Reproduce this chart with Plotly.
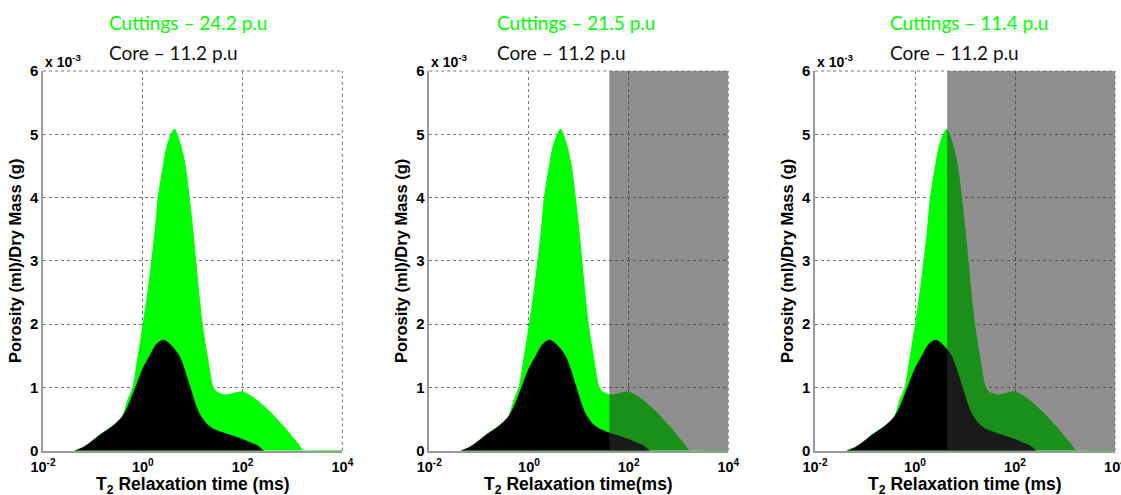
import plotly.graph_objects as go

# ---- data (T2 in ms, porosity in units of 1e-3 ml/g) ----
cut_t2 = [0.0437, 0.0631, 0.1, 0.138, 0.24, 0.38, 0.5, 0.63, 0.79, 1.02, 1.26, 1.51, 1.78,
          2.04, 2.57, 3.16, 4.27, 5.62, 7.08, 8.51, 10.0, 11.5, 13.2, 15.5, 20.0, 25.7,
          31.6, 44.7, 63.1, 95.5, 135, 191, 269, 380, 537, 759, 1000, 1259, 1660, 3000, 10000]
cut_val = [0.0, 0.05, 0.16, 0.25, 0.38, 0.52, 0.8, 1.0, 1.45, 2.0, 2.5, 3.0, 3.5,
           4.0, 4.5, 4.85, 5.08, 4.85, 4.5, 4.0, 3.5, 3.0, 2.5, 2.0, 1.45, 1.0,
           0.92, 0.88, 0.9, 0.93, 0.88, 0.8, 0.7, 0.59, 0.46, 0.33, 0.21, 0.12, 0.0, 0.0, 0.0]

core_t2 = [0.0437, 0.0631, 0.1, 0.138, 0.24, 0.38, 0.5, 0.71, 1.0, 1.38, 1.86, 2.57, 3.55,
           5.37, 8.91, 11.2, 13.5, 17.8, 25.1, 35.5, 50.1, 70.8, 100, 141, 200, 263]
core_val = [0.0, 0.05, 0.16, 0.25, 0.38, 0.53, 0.7, 1.0, 1.3, 1.5, 1.68, 1.75, 1.68,
            1.5, 1.0, 0.75, 0.59, 0.45, 0.35, 0.3, 0.26, 0.22, 0.18, 0.13, 0.08, 0.0]

cuttings_labels = ["Cuttings \u2013 24.2 p.u", "Cuttings \u2013 21.5 p.u", "Cuttings \u2013 11.4 p.u"]
core_labels = ["Core \u2013 11.2 p.u", "Core \u2013 11.2 p.u", "Core \u2013 11.2 p.u"]
cutoffs = [None, 41.0, 4.4]          # start of shaded region (ms)
xtitles = ["T<sub>2</sub> Relaxation time (ms)", "T<sub>2</sub> Relaxation time(ms)",
           "T<sub>2</sub> Relaxation time (ms)"]
x_tickvals = [0.01, 1, 100, 10000]
x_ticktext = ["10<sup>-2</sup>", "10<sup>0</sup>", "10<sup>2</sup>", "10<sup>4</sup>"]
y_tickvals = [0, 1, 2, 3, 4, 5, 6]

W, H = 1121, 495
x_px = [(43, 342.4), (429.3, 728.3), (815, 1115)]
y_px = (71, 450.7)
title_left_px = [107, 495, 888]

fig = go.Figure()
FONT = "Liberation Sans, Arial"
layout = dict(width=W, height=H, margin=dict(l=0, r=0, t=0, b=0, pad=0, autoexpand=False),
              template="none",
              paper_bgcolor="white", plot_bgcolor="white", showlegend=False)
annotations = []
shapes = []
for i in range(3):
    xa = "x" if i == 0 else f"x{i+1}"
    ya = "y" if i == 0 else f"y{i+1}"
    fig.add_trace(go.Scatter(x=cut_t2, y=cut_val, mode="lines", fill="tozeroy",
                             fillcolor="#00ff00",
                             line=dict(color="#00ff00", width=1, shape="spline", smoothing=0.8),
                             xaxis=xa, yaxis=ya, hoverinfo="skip"))
    fig.add_trace(go.Scatter(x=core_t2, y=core_val, mode="lines", fill="tozeroy",
                             fillcolor="#000000",
                             line=dict(color="#000000", width=0.5, shape="spline", smoothing=0.8),
                             xaxis=xa, yaxis=ya, hoverinfo="skip"))
    if cutoffs[i] is not None:
        fig.add_trace(go.Scatter(x=[cutoffs[i], 10000], y=[6, 6], mode="lines", fill="tozeroy",
                                 fillcolor="rgba(48,48,48,0.54)", line=dict(width=0),
                                 xaxis=xa, yaxis=ya, hoverinfo="skip"))
    dom_x = [x_px[i][0] / W, x_px[i][1] / W]
    dom_y = [(H - y_px[1]) / H, (H - y_px[0]) / H]
    xkey = "xaxis" if i == 0 else f"xaxis{i+1}"
    ykey = "yaxis" if i == 0 else f"yaxis{i+1}"
    layout[xkey] = dict(type="log", range=[-2, 4], domain=dom_x, anchor=ya, automargin=False,
                        tickvals=x_tickvals, ticktext=[f"<b>{t}</b>" for t in x_ticktext],
                        tickfont=dict(family=FONT, size=14.5, color="black"),
                        ticks="", ticklabelstandoff=2,
                        ticklabeloverflow="allow", showgrid=True, gridcolor="#777",
                        griddash="dot", gridwidth=1, showline=True, linecolor="#999",
                        linewidth=1.5, zeroline=False)
    layout[ykey] = dict(range=[0, 6], domain=dom_y, anchor=xa, automargin=False,
                        tickvals=y_tickvals, ticktext=[f"<b>{v}</b>" for v in y_tickvals],
                        tickfont=dict(family=FONT, size=15, color="black"),
                        ticks="", showgrid=True, gridcolor="#777",
                        griddash="dot", gridwidth=1, showline=True, linecolor="#999",
                        linewidth=1.5, zeroline=False,
                        title=dict(text="<b>Porosity (ml)/Dry Mass (g)</b>",
                                   font=dict(family=FONT, size=16.5, color="black"),
                                   standoff=4))
    # x-axis title placed explicitly
    annotations.append(dict(text=f"<b>{xtitles[i]}</b>", xref=f"{xa} domain", yref="paper",
                            x=0.5, y=1 - 472 / H, xanchor="center", yanchor="top",
                            showarrow=False,
                            font=dict(family=FONT, size=17.5, color="black")))
    # top & right dotted borders
    shapes.append(dict(type="line", xref=f"{xa} domain", yref=f"{ya} domain",
                       x0=0, x1=1, y0=1, y1=1, line=dict(color="#777", width=1, dash="dot")))
    shapes.append(dict(type="line", xref=f"{xa} domain", yref=f"{ya} domain",
                       x0=1, x1=1, y0=0, y1=1, line=dict(color="#777", width=1, dash="dot")))
    annotations.append(dict(text="<b>x 10<sup>-3</sup></b>", xref=f"{xa} domain", yref=f"{ya} domain",
                            x=0, y=1, xanchor="left", yanchor="bottom", showarrow=False,
                            xshift=0, yshift=-1,
                            font=dict(family=FONT, size=14, color="black")))
    annotations.append(dict(text=cuttings_labels[i], xref="paper", yref="paper",
                            x=title_left_px[i] / W, y=1 - 23 / H, xanchor="left", yanchor="middle",
                            showarrow=False, font=dict(family="Lato", size=19, color="#00ff00")))
    annotations.append(dict(text=core_labels[i], xref="paper", yref="paper",
                            x=title_left_px[i] / W, y=1 - 52 / H, xanchor="left", yanchor="middle",
                            showarrow=False, font=dict(family="Lato", size=19, color="#111111")))

layout["annotations"] = annotations
layout["shapes"] = shapes
fig.update_layout(**layout)
fig.write_html("out.html")
